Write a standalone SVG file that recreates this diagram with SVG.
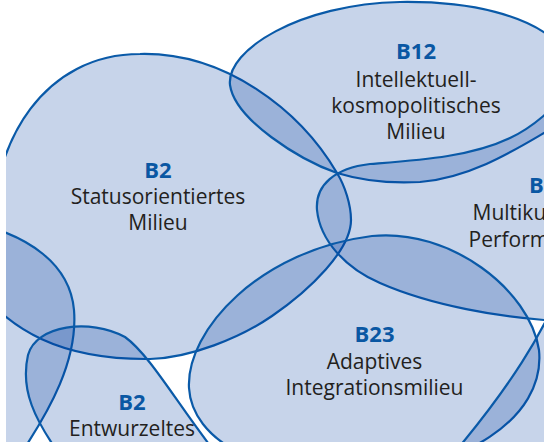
<svg xmlns="http://www.w3.org/2000/svg" width="544" height="446" viewBox="0 0 544 446">
<style>
.blob{fill:#003ca0;fill-opacity:.22;stroke:#0a5aa8;stroke-width:2.2;stroke-linejoin:round}
.code{font-family:"Open Sans","Noto Sans","DejaVu Sans",sans-serif;font-weight:700;font-size:22px;fill:#0a57a3;text-anchor:middle}
.lbl{font-family:"Open Sans","Noto Sans","DejaVu Sans",sans-serif;font-size:21px;fill:#231f20;text-anchor:middle}
.st{text-anchor:start}
</style>
<defs>
<clipPath id="frame"><rect x="6" y="0" width="538" height="442"/></clipPath>
</defs>
<rect width="544" height="446" fill="#ffffff"/>
<g clip-path="url(#frame)">
<g id="b2-status">
<path class="blob" d="M -8,235 C -8,140 45,54 140,54 C 225,52 300,110 337,173 C 345,186 351,205 351,220 C 351,250 310,290 272,316 C 240,338 190,358 150,359 C 60,360 10,330 -25,285 C -30,270 -10,250 -8,235 Z"/>
<text class="code" x="158" y="178">B2</text>
<text class="lbl" x="158" y="204">Statusorientiertes</text>
<text class="lbl" x="158" y="230">Milieu</text>
</g>
<g id="b12">
<path class="blob" d="M 230,85 C 226,50 300,4 400,2 C 470,1 530,15 560,45 C 590,80 580,120 544,133 C 515,150 470,178 420,182 C 385,184 360,180 337,173 C 300,160 235,120 230,85 Z"/>
<text class="code" x="416" y="59">B12</text>
<text class="lbl" x="416" y="87">Intellektuell-</text>
<text class="lbl" x="416" y="113">kosmopolitisches</text>
<text class="lbl" x="416" y="138.5">Milieu</text>
</g>
<g id="b1">
<path class="blob" d="M 317,210 C 315,185 335,168 370,164 C 420,160 470,157 510,138 C 540,124 560,100 580,80 L 620,80 L 620,330 L 560,321 C 500,318 430,305 380,283 C 345,268 320,240 317,210 Z"/>
<text class="code st" x="529" y="193">B</text>
<text class="lbl st" x="472.5" y="220">Multiku</text>
<text class="lbl st" x="468.5" y="246.5">Perform</text>
</g>
<g id="b23">
<path class="blob" d="M 189,388 C 186,330 260,250 372,236 C 450,228 530,290 539,350 C 546,420 460,470 360,475 C 260,478 192,440 189,388 Z"/>
<text class="code" x="374.5" y="342">B23</text>
<text class="lbl" x="374.5" y="368.5">Adaptives</text>
<text class="lbl" x="374.5" y="394.5">Integrationsmilieu</text>
</g>
<g id="left-milieu">
<path class="blob" d="M -30,222 C 30,235 70,265 74,310 C 78,360 50,410 20,455 L -40,460 Z"/>
</g>
<g id="b2-entwurzelt">
<path class="blob" d="M 60,455 C 35,420 20,390 28,355 C 36,325 90,318 125,337 C 150,355 178,405 215,452 Z"/>
<text class="code" x="132" y="410">B2</text>
<text class="lbl" x="132" y="436">Entwurzeltes</text>
</g>
<g id="right-milieu">
<path class="blob" d="M 556,300 C 540,335 515,380 455,452 L 455,480 L 620,480 L 620,300 Z"/>
</g>
<g id="connectors"/>
</g>
</svg>
